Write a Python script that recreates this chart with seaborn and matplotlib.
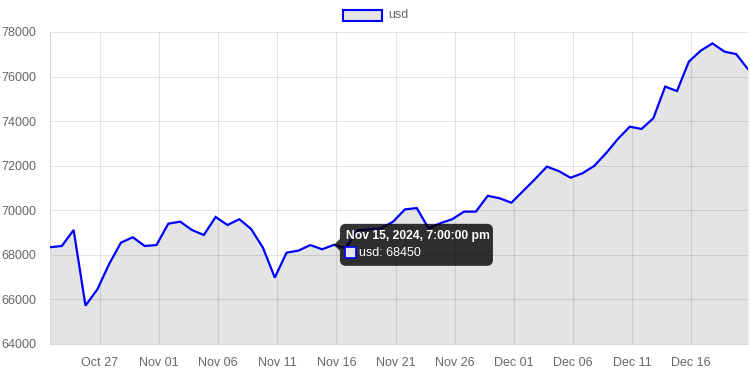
import matplotlib
matplotlib.use("Agg")
import matplotlib.pyplot as plt
import matplotlib.dates as mdates
from matplotlib.patches import FancyBboxPatch, Rectangle, Polygon
import seaborn as sns
import pandas as pd
import numpy as np

# ---- data ----
start_date = "2024-10-22 19:00"
usd = [68340, 68400, 69115, 65720, 66450, 67590, 68550, 68790, 68400, 68440,
       69400, 69490, 69115, 68890, 69700, 69340, 69600, 69160, 68320, 66980,
       68100, 68190, 68440, 68250, 68450, 68300, 69100, 69150, 69190, 69490,
       70040, 70100, 69190, 69420, 69600, 69940, 69940, 70650, 70540, 70340,
       70870, 71400, 71960, 71760, 71460, 71660, 71990, 72560, 73200, 73750,
       73650, 74130, 75550, 75350, 76670, 77160, 77490, 77120, 77010, 76330]
series_label = "usd"
x_tick_dates = ["2024-10-27", "2024-11-01", "2024-11-06", "2024-11-11", "2024-11-16",
                "2024-11-21", "2024-11-26", "2024-12-01", "2024-12-06", "2024-12-11",
                "2024-12-16"]
x_tick_labels = ["Oct 27", "Nov 01", "Nov 06", "Nov 11", "Nov 16", "Nov 21",
                 "Nov 26", "Dec 01", "Dec 06", "Dec 11", "Dec 16"]
y_ticks = [64000, 66000, 68000, 70000, 72000, 74000, 76000, 78000]
tooltip_index = 24
tooltip_title = "Nov 15, 2024, 7:00:00 pm"

dates = pd.date_range(start_date, periods=len(usd), freq="D")
df = pd.DataFrame({"date": dates, "usd": usd})

sns.set_style("white")
plt.rcParams["font.family"] = ["Liberation Sans", "DejaVu Sans"]
plt.rcParams["grid.alpha"] = 0.1

W, H = 750, 375
fig = plt.figure(figsize=(W / 100, H / 100), dpi=100)
ax = fig.add_axes([50 / W, 1 - 344 / H, (748 - 50) / W, (344 - 32) / H])

grid_c = "#e6e6e6"
ax.fill_between(df["date"], df["usd"], y_ticks[0], color=(0, 0, 0, 0.105), lw=0, zorder=1)
sns.lineplot(data=df, x="date", y="usd", ax=ax, color="#0000ff", lw=1.6, zorder=3,
             legend=False)
for l in ax.lines:
    l.set_solid_joinstyle("miter")

ax.set_xlim(dates[0], dates[-1])
ax.set_ylim(y_ticks[0], y_ticks[-1])
ax.set_xticks(pd.to_datetime(x_tick_dates))
ax.set_xticklabels(x_tick_labels)
ax.set_yticks(y_ticks)
ax.set_yticklabels([str(v) for v in y_ticks])
ax.set_xlabel("")
ax.set_ylabel("")
ax.grid(True, color="black", alpha=0.1, lw=0.75, zorder=2)
for s in ["top", "right"]:
    ax.spines[s].set_visible(False)
for s in ["left", "bottom"]:
    ax.spines[s].set_color("#d9d9d9")
    ax.spines[s].set_linewidth(0.75)
ax.tick_params(axis="both", length=6, width=0.75, color=grid_c, labelcolor="#666666",
               labelsize=9, pad=4)
ax.tick_params(axis="x", pad=3)

# ---- overlay in pixel coordinates for legend and tooltip ----
ov = fig.add_axes([0, 0, 1, 1], zorder=10)
ov.set_xlim(0, W)
ov.set_ylim(H, 0)
ov.axis("off")
ov.patch.set_alpha(0)

# legend
ov.add_patch(Rectangle((342.5, 9.5), 39, 11.5, facecolor="#e6e6e6", edgecolor="#0000ff", lw=1.5))
ov.text(388, 15.5, series_label, color="#666666", fontsize=9, va="center", ha="left")

# tooltip anchored to the data point
fig.canvas.draw()
pt = ax.transData.transform((mdates.date2num(dates[tooltip_index]), usd[tooltip_index]))
px, py = pt[0], H - pt[1]
bx0, by0 = px + 6, py - 21
bw, bh = 153, 42
ov.add_patch(FancyBboxPatch((bx0, by0), bw, bh, boxstyle="round,pad=0,rounding_size=6",
                            facecolor=(0, 0, 0, 0.8), edgecolor="none"))
ov.add_patch(Polygon([[px, py], [bx0, py - 6], [bx0, py + 6]], closed=True,
                     facecolor=(0, 0, 0, 0.8), edgecolor="none"))
ov.text(bx0 + 6, by0 + 12, tooltip_title, color="white", fontsize=8.7, fontweight="bold",
        va="center", ha="left")
ov.add_patch(Rectangle((bx0 + 5.5, by0 + 23.5), 11, 11, facecolor="#e6e6e6",
                       edgecolor="#0000ff", lw=1.2))
ov.text(bx0 + 19, by0 + 29.5, f"{series_label}: {usd[tooltip_index]}", color="white",
        fontsize=9, va="center", ha="left")

fig.savefig("out.png", dpi=100)
